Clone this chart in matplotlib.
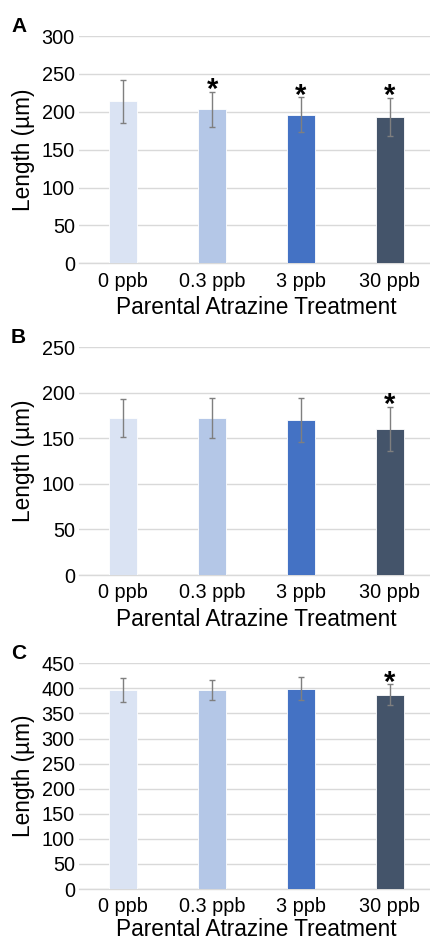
import matplotlib
matplotlib.use("Agg")
import matplotlib.pyplot as plt

plt.rcParams['font.family'] = ['Liberation Sans', 'DejaVu Sans']

categories = ["0 ppb", "0.3 ppb", "3 ppb", "30 ppb"]
colors = ["#DAE3F3", "#B4C7E7", "#4472C4", "#44546A"]

means_A = [214, 203.5, 196, 193]
err_A = [28.5, 23, 23, 25]
sig_A = [False, True, True, True]

means_B = [172, 172, 170, 160.5]
err_B = [21, 22, 24, 24]
sig_B = [False, False, False, True]

means_C = [396.5, 396.5, 399.5, 387]
err_C = [23.5, 20, 23.5, 21]
sig_C = [False, False, False, True]

panels = [
    ("A", means_A, err_A, sig_A, 300, 50, [79/430, 0.7208, 355/430, 0.2410], 4),
    ("B", means_B, err_B, sig_B, 250, 50, [79/430, 0.3902, 355/430, 0.2415], 4),
    ("C", means_C, err_C, sig_C, 450, 50, [79/430, 0.0572, 355/430, 0.2394], 1.5),
]

fig = plt.figure(figsize=(4.30, 9.43), dpi=100)
fs_tick = 14.3
fs_lab = 16.3
for label, means, errs, sigs, ymax, step, rect, lpad in panels:
    ax = fig.add_axes(rect)
    x = list(range(len(categories)))
    ax.bar(x, means, width=0.315, color=colors, edgecolor="#FFFFFF", linewidth=0.6, zorder=3)
    ax.errorbar(x, means, yerr=errs, fmt='none', ecolor="#7F7F7F", elinewidth=1.0,
                capsize=2.5, capthick=1.0, zorder=4)
    for xi, m, e, s in zip(x, means, errs, sigs):
        if s:
            ax.annotate("*", xy=(xi, m + e), xytext=(0, -4.5), textcoords='offset points',
                        ha='center', va='baseline', fontsize=21, fontweight='bold', color='black',
                        zorder=5)
    ax.set_xlim(-0.5, 3.5)
    ax.set_ylim(0, ymax)
    ax.set_yticks(list(range(0, ymax + 1, step)))
    ax.set_xticks(x)
    ax.set_xticklabels(categories)
    ax.grid(axis='y', color="#D9D9D9", linewidth=1.0, zorder=0)
    ax.set_axisbelow(True)
    for sp in ['left', 'right', 'top']:
        ax.spines[sp].set_visible(False)
    ax.spines['bottom'].set_color("#D9D9D9")
    ax.spines['bottom'].set_linewidth(1.0)
    ax.tick_params(axis='both', length=0, labelsize=fs_tick, colors='black')
    ax.tick_params(axis='y', pad=3)
    ax.tick_params(axis='x', pad=6)
    ax.set_ylabel("Length (µm)", fontsize=fs_lab)
    ax.set_xlabel("Parental Atrazine Treatment", fontsize=fs_lab, labelpad=lpad)
    ax.yaxis.set_label_coords(-0.124, 0.5)
    top_px = (1 - (rect[1] + rect[3])) * 943
    fig.text(11/430, 1 - (top_px - 10) / 943, label, fontsize=15, fontweight='bold',
             ha='left', va='center')

fig.savefig("out.png", dpi=100)
